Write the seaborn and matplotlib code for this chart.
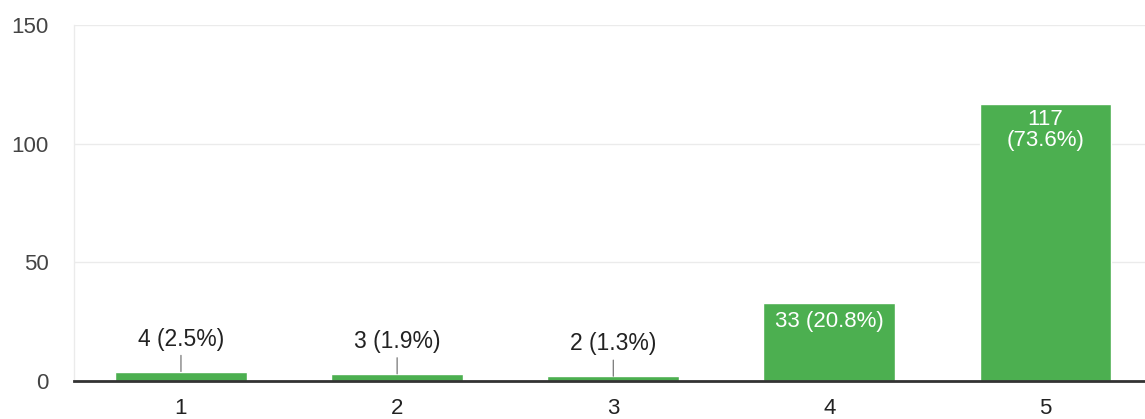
import matplotlib
matplotlib.use("Agg")
import matplotlib.pyplot as plt
import seaborn as sns
import pandas as pd

categories = ["1", "2", "3", "4", "5"]
counts = [4, 3, 2, 33, 117]
percents = ["2.5%", "1.9%", "1.3%", "20.8%", "73.6%"]
y_ticks = [0, 50, 100, 150]

df = pd.DataFrame({"rating": categories, "count": counts})

sns.set_theme(style="white")
plt.rcParams["font.family"] = ["Liberation Sans", "DejaVu Sans"]

fig = plt.figure(figsize=(11.45, 4.19), dpi=100)
ax = fig.add_axes([0.0646, 0.0907, 0.9354, 0.849])

green = "#4caf50"
sns.barplot(data=df, x="rating", y="count", color=green, width=0.61,
            saturation=1, ax=ax, zorder=2)

ax.set_ylim(0, 150)
ax.set_xlim(-0.495, 4.46)
ax.set_yticks(y_ticks)
ax.grid(axis="y", color="#ebebeb", lw=1, zorder=0)
ax.set_xlabel("")
ax.set_ylabel("")
ax.tick_params(axis="y", length=0, pad=18, labelsize=16, labelcolor="#444444")
ax.tick_params(axis="x", length=0, pad=12, labelsize=16, labelcolor="#222222")

for s in ["top", "right"]:
    ax.spines[s].set_visible(False)
ax.spines["left"].set_color("#ebebeb")
ax.spines["left"].set_linewidth(1)
ax.spines["bottom"].set_color("#333333")
ax.spines["bottom"].set_linewidth(2)
ax.spines["bottom"].set_zorder(3)

for i, (c, p) in enumerate(zip(counts, percents)):
    if c < 10:
        ax.annotate(f"{c} ({p})", xy=(i, c), xytext=(0, 15), textcoords="offset points",
                    ha="center", va="bottom", fontsize=16.5, color="#222222",
                    arrowprops=dict(arrowstyle="-", color="#666666", lw=0.8,
                                    shrinkA=1, shrinkB=0))
    elif c < 60:
        ax.annotate(f"{c} ({p})", xy=(i, c), xytext=(0, -6), textcoords="offset points",
                    ha="center", va="top", fontsize=16, color="white")
    else:
        ax.annotate(f"{c}\n({p})", xy=(i, c), xytext=(0, -4), textcoords="offset points",
                    ha="center", va="top", fontsize=16, color="white", linespacing=1.0)

fig.savefig("out.png", dpi=100)
